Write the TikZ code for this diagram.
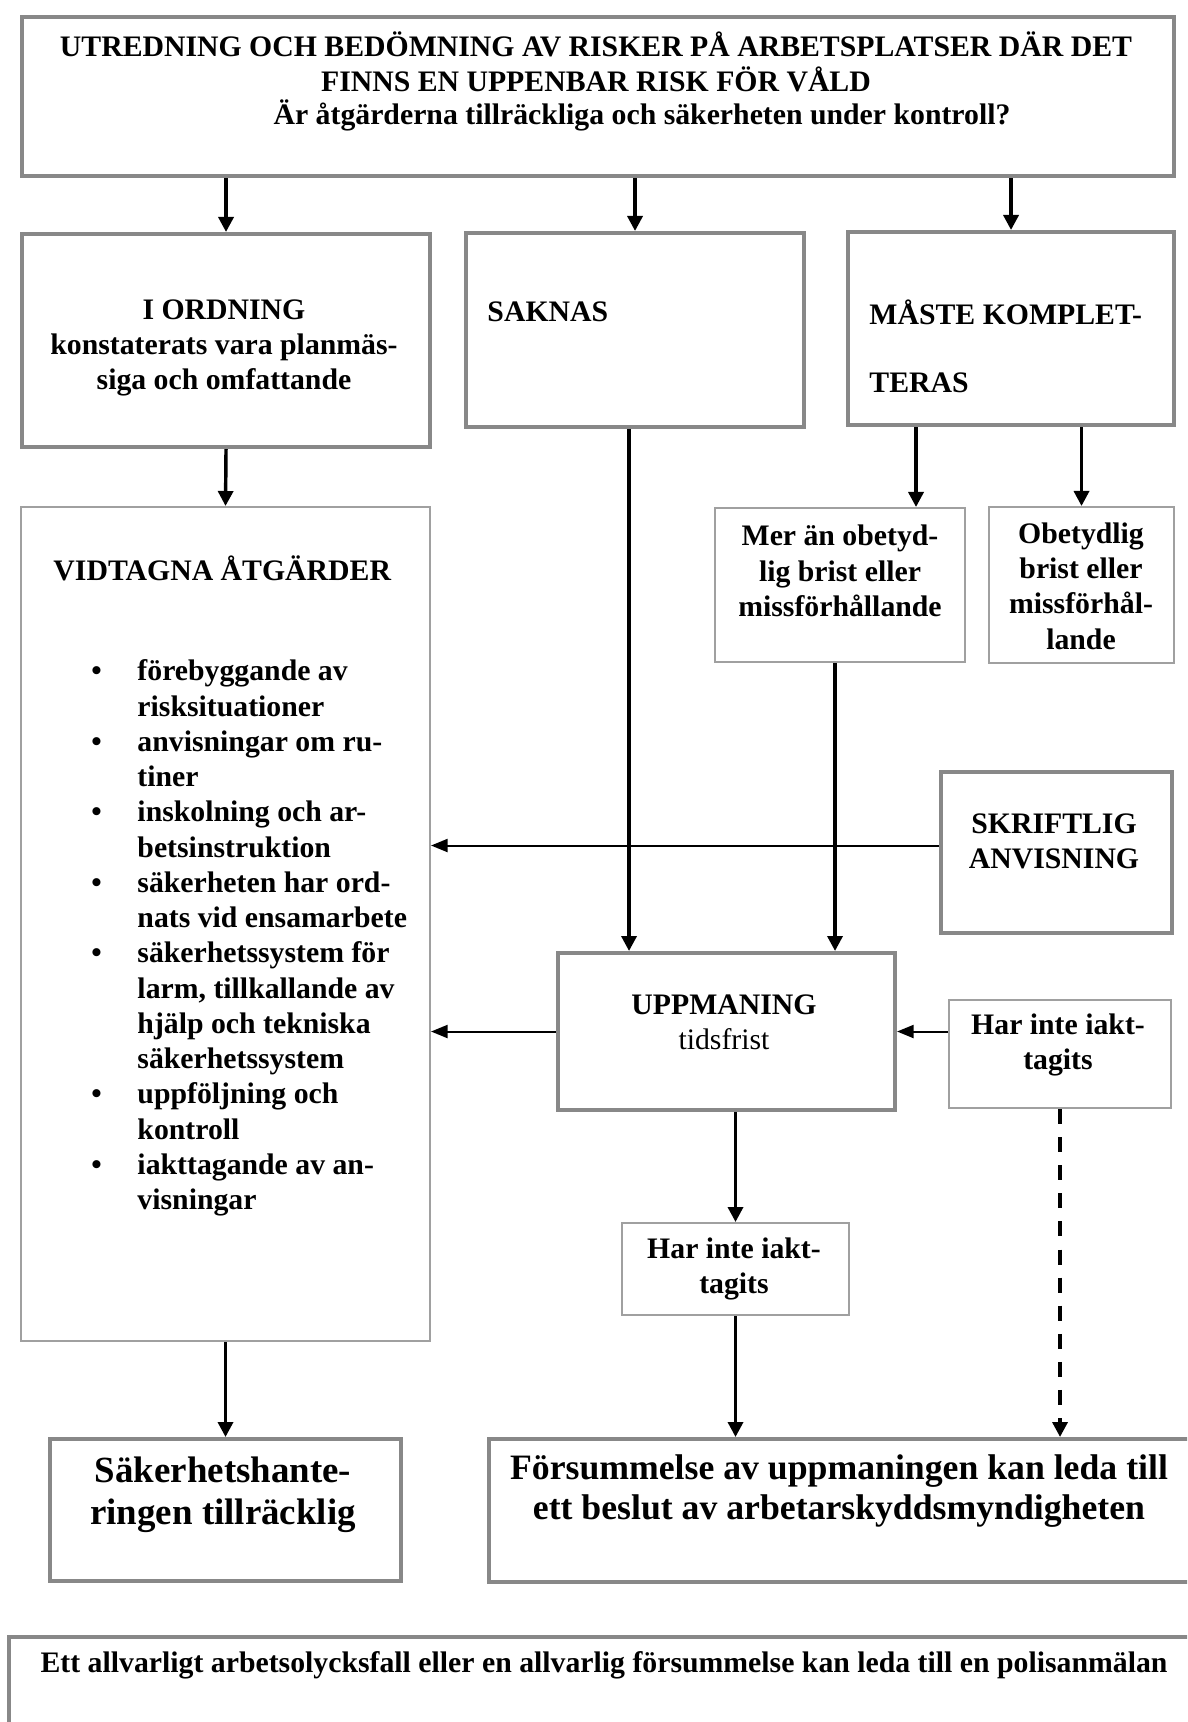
\documentclass[tikz,border=0pt]{standalone}
\usepackage{fontspec}
\setmainfont{Liberation Serif}
\usetikzlibrary{calc,arrows.meta}
\newcommand{\pxu}{0.42pt}
\definecolor{boxgray}{RGB}{136,136,136}
\definecolor{thingray}{RGB}{160,160,160}

\begin{document}
\begin{tikzpicture}[x=0.42pt,y=-0.42pt,
    thickbox/.style={draw=boxgray,line width=1.7pt,rectangle,anchor=north west,inner sep=0pt},
    thinbox/.style={draw=thingray,line width=0.85pt,rectangle,anchor=north west,inner sep=0pt},
    txt/.style={inner sep=0pt,font=\fontsize{12.5}{14.8}\selectfont\bfseries},
    bigtxt/.style={inner sep=0pt,font=\fontsize{15.5}{17.6}\selectfont\bfseries},
    arr/.style={-{Triangle[width=6.3pt,length=6.3pt]},line width=1.45pt},
    harr/.style={-{Triangle[width=5.5pt,length=7pt]},line width=0.85pt}]
  \useasboundingbox (0,0) rectangle (1187,1722);
  \clip (0,0) rectangle (1187,1722);
  \fill[white] (0,0) rectangle (1187,1722);

  % boxes
  \node[thickbox,minimum width=1152*\pxu,minimum height=159*\pxu] (top) at (20,15) {};
  \node[thickbox,minimum width=408*\pxu,minimum height=213*\pxu] (iord) at (20,232) {};
  \node[thickbox,minimum width=338*\pxu,minimum height=194*\pxu] (saknas) at (464,231) {};
  \node[thickbox,minimum width=326*\pxu,minimum height=193*\pxu] (maste) at (846,230) {};
  \node[thinbox,minimum width=409*\pxu,minimum height=834*\pxu] (vidt) at (20,506) {};
  \node[thinbox,minimum width=250*\pxu,minimum height=154*\pxu] (mer) at (714,507) {};
  \node[thinbox,minimum width=185*\pxu,minimum height=156*\pxu] (obet) at (988,506) {};
  \node[thickbox,minimum width=231*\pxu,minimum height=161*\pxu] (skrift) at (939,770) {};
  \node[thickbox,minimum width=337*\pxu,minimum height=157*\pxu] (upp) at (556,951) {};
  \node[thinbox,minimum width=222*\pxu,minimum height=108*\pxu] (harR) at (948,999) {};
  \node[thinbox,minimum width=227*\pxu,minimum height=92*\pxu] (harM) at (621,1222) {};
  \node[thickbox,minimum width=351*\pxu,minimum height=142*\pxu] (saker) at (48,1437) {};
  \node[thickbox,minimum width=760*\pxu,minimum height=143*\pxu] (fors) at (487,1437) {};
  \node[thickbox,minimum width=1250*\pxu,minimum height=150*\pxu] (polis) at (7,1635) {};

  % texts
  \node[txt,align=center] (top-txt) at (596,62) {UTREDNING OCH BEDÖMNING AV RISKER PÅ ARBETSPLATSER DÄR DET\\FINNS EN UPPENBAR RISK FÖR VÅLD};
  \node[txt] (top-q) at (642,115) {Är åtgärderna tillräckliga och säkerheten under kontroll?};
  \node[txt,align=center] (iord-txt) at (224,348) {I ORDNING\\konstaterats vara planmäs-\\siga och omfattande};
  \node[txt,anchor=west] (saknas-txt) at (487,312) {SAKNAS};
  \node[txt,anchor=west,align=left] (maste-txt) at (869,346) {MÅSTE KOMPLET-\\[13.8pt]TERAS};
  \node[txt,anchor=west] (vidt-head) at (53,568) {VIDTAGNA ÅTGÄRDER};
  \node[txt,anchor=west,align=left] (vidt-list) at (137,938) {%
    \llap{\textbullet\hspace{15pt}}förebyggande av\\risksituationer\\
    \llap{\textbullet\hspace{15pt}}anvisningar om ru-\\tiner\\
    \llap{\textbullet\hspace{15pt}}inskolning och ar-\\betsinstruktion\\
    \llap{\textbullet\hspace{15pt}}säkerheten har ord-\\nats vid ensamarbete\\
    \llap{\textbullet\hspace{15pt}}säkerhetssystem för\\larm, tillkallande av\\hjälp och tekniska\\säkerhetssystem\\
    \llap{\textbullet\hspace{15pt}}uppföljning och\\kontroll\\
    \llap{\textbullet\hspace{15pt}}iakttagande av an-\\visningar};
  \node[txt,align=center] (mer-txt) at (840,571) {Mer än obetyd-\\lig brist eller\\missförhållande};
  \node[txt,align=center] (obet-txt) at (1081,586) {Obetydlig\\brist eller\\missförhål-\\lande};
  \node[txt,align=center] (skrift-txt) at (1054,841) {SKRIFTLIG\\ANVISNING};
  \node[txt,align=center] (upp-txt) at (724,1022) {UPPMANING\\{\mdseries tidsfrist}};
  \node[txt,align=center] (harR-txt) at (1058,1045) {Har inte iakt-\\tagits};
  \node[txt,align=center] (harM-txt) at (734,1269) {Har inte iakt-\\tagits};
  \node[bigtxt,align=center] (saker-txt) at (223,1495) {Säkerhetshante-\\ringen tillräcklig};
  \node[bigtxt,font=\fontsize{15}{16.9}\selectfont\bfseries,align=center] (fors-txt) at (839,1491) {Försummelse av uppmaningen kan leda till\\ett beslut av arbetarskyddsmyndigheten};
  \node[txt] (polis-txt) at (604,1665) {Ett allvarligt arbetsolycksfall eller en allvarlig försummelse kan leda till en polisanmälan};

  % connectors
  \coordinate (sak-out) at ($(saknas.south)+(-6,0)$);
  \coordinate (mer-in) at ($(mer.north)+(76,0)$);
  \coordinate (mer-out) at ($(mer.south)+(-5,0)$);
  \coordinate (skrift-out) at ($(skrift.west)+(0,-7)$);
  \draw[arr] (top.south -| iord.north) -- (iord.north);
  \draw[arr] (top.south -| saknas.north) -- (saknas.north);
  \draw[arr] (top.south -| maste.north) -- (maste.north);
  \draw[arr] (iord.south) -- (vidt.north);
  \draw[arr] (sak-out) -- (sak-out |- upp.north);
  \draw[arr] (maste.south -| mer-in) -- (mer-in);
  \draw[arr] (maste.south -| obet.north) -- (obet.north);
  \draw[arr] (mer-out) -- (mer-out |- upp.north);
  \draw[arr] (upp.south -| harM.north) -- (harM.north);
  \draw[arr] (harM.south) -- (harM.south |- fors.north);
  \draw[arr] (vidt.south) -- (vidt.south |- saker.north);
  \draw[harr] (skrift-out) -- (skrift-out -| vidt.east);
  \draw[harr] (upp.west) -- (upp.west -| vidt.east);
  \draw[harr] (upp.east -| harR.west) -- (upp.east);
  \draw[arr,dash pattern=on 6.3pt off 5.5pt]
    (harR.south) -- (harR.south |- fors.north);
\end{tikzpicture}
\end{document}
